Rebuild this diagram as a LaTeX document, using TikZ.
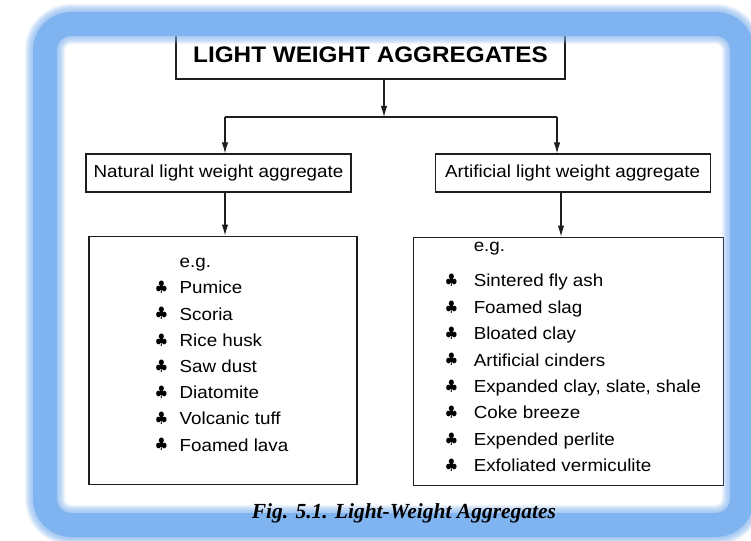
\documentclass[tikz,border=0pt]{standalone}
\usepackage{fontspec}
\setmainfont[FakeStretch=1.08]{Liberation Sans}
\newfontfamily\captionfont{Liberation Serif}
\usetikzlibrary{arrows.meta, positioning, calc}
\definecolor{framecol}{RGB}{128,180,240}
\definecolor{ink}{RGB}{30,30,30}

\begin{document}
\begin{tikzpicture}[
    x=1pt, y=-1pt,
    box/.style={rectangle, draw=ink, line width=1.1pt, inner sep=0pt,
                minimum height=38pt, font=\fontsize{17.4}{20}\selectfont},
    listbox/.style={rectangle, draw=ink, line width=1.1pt, minimum height=248pt},
    entry/.style={anchor=west, inner sep=0pt, text height=12.5pt, text depth=0pt,
                  font=\fontsize{17.4}{20}\selectfont},
    club/.style={inner sep=0pt, font=\fontsize{15}{15}\selectfont},
    arr/.style={-{Latex[length=11pt,width=6.5pt]}, line width=1.1pt, draw=ink},
    link/.style={line width=1.1pt, draw=ink}
  ]
  \useasboundingbox (0,0) rectangle (751,540);
  \fill[white] (0,0) rectangle (751,540);

  % title and the two kinds
  \node[box, minimum width=389pt, minimum height=49pt,
        font=\fontsize{22.5}{26}\selectfont\bfseries] (top) at (370.5,54.5) {LIGHT WEIGHT AGGREGATES};
  \node[box, minimum width=265pt] (nat) at (218.5,173) {Natural light weight aggregate};
  \node[box, minimum width=275pt, right=83pt of nat] (art) {Artificial light weight aggregate};

  % example lists
  \node[listbox, minimum width=268pt, below=43pt of nat, xshift=4.5pt] (natlist) {};
  \node[listbox, minimum width=310pt, below=44pt of art, xshift=-4.5pt] (artlist) {};

  % connectors
  \coordinate (fork) at (384,117);
  \coordinate (forkl) at (225,117);
  \coordinate (forkr) at (557,117);
  \coordinate (dropr) at (561,0);
  \draw[arr] (top.south -| fork) -- (fork);
  \draw[link] (forkl) -- (forkr);
  \draw[arr] (forkl) -- (forkl |- nat.north);
  \draw[arr] (forkr) -- (forkr |- art.north);
  \draw[arr] (forkl |- nat.south) -- (forkl |- natlist.north);
  \draw[arr] (dropr |- art.south) -- (dropr |- artlist.north);

  % natural examples
  \node[entry] (natEg) at ($(natlist.north west)+(91,25.8)$) {e.g.};
  \foreach \txt [count=\i from 0] in {Pumice, Scoria, Rice husk, Saw dust, Diatomite, Volcanic tuff, Foamed lava} {
    \node[club] (natClub\i) at ($(natlist.north west)+(73,52+26.2*\i)$) {$\clubsuit$};
    \node[entry] (natItem\i) at ($(natlist.north west)+(91,52+26.2*\i)$) {\txt};
  }

  % artificial examples
  \node[entry] (artEg) at ($(artlist.north west)+(61,8.5)$) {e.g.};
  \foreach \txt [count=\i from 0] in {Sintered fly ash, Foamed slag, Bloated clay, Artificial cinders,
      {Expanded clay, slate, shale}, Coke breeze, Expended perlite, Exfoliated vermiculite} {
    \node[club] (artClub\i) at ($(artlist.north west)+(39,44+26.4*\i)$) {$\clubsuit$};
    \node[entry] (artItem\i) at ($(artlist.north west)+(61,44+26.4*\i)$) {\txt};
  }

  % blue frame, soft edged
  \foreach \w in {40,38,...,26} {
    \draw[framecol, line width=\w pt, opacity=0.13, rounded corners=26pt] (45,24) rectangle (742,525);
  }
  \draw[framecol, line width=24pt, rounded corners=26pt] (45,24) rectangle (742,525);

  \node[font=\captionfont\bfseries\itshape\fontsize{21.5}{24}\selectfont] (cap) at (404,513)
    {Fig. 5.1. Light-Weight Aggregates};
\end{tikzpicture}
\end{document}
